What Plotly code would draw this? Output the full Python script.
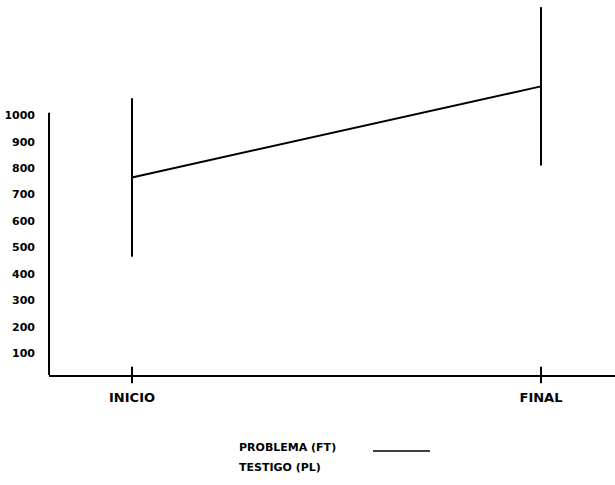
import plotly.graph_objects as go

# Data
categories = ["INICIO", "FINAL"]
x_pos = [0, 1]
means = [765, 1110]
spread = [300, 300]
y_ticks = [100, 200, 300, 400, 500, 600, 700, 800, 900, 1000]
legend_labels = ["PROBLEMA (FT)", "TESTIGO (PL)"]

FONT = "DejaVu Sans, Liberation Sans, Arial, sans-serif"

# Plot-area geometry (pixels) used to place paper-referenced items
L, W, B = 49, 566, 375


def px_x(px):
    return (px - L) / W


def px_y(py):
    return (B - py) / B


fig = go.Figure()
fig.add_trace(go.Scatter(
    x=x_pos, y=means, mode="lines",
    line=dict(color="black", width=2),
    error_y=dict(type="data", array=spread, visible=True,
                 color="black", thickness=2, width=0),
    showlegend=False, hoverinfo="skip",
))

shapes = []
# Vertical axis line, drawn only up to the top tick
shapes.append(dict(type="line", xref="paper", yref="y", x0=0, x1=0,
                   y0=17, y1=y_ticks[-1] + 10,
                   line=dict(color="black", width=2)))
# Crossing tick marks on the category axis
for xv in x_pos:
    shapes.append(dict(type="line", xref="x", yref="paper", x0=xv, x1=xv,
                       y0=-0.022, y1=0.022, line=dict(color="black", width=2)))
# Legend line sample
shapes.append(dict(type="line", xref="paper", yref="paper",
                   x0=px_x(373), x1=px_x(430), y0=px_y(451), y1=px_y(451),
                   line=dict(color="black", width=1.5)))

annotations = []
for i, lab in enumerate(legend_labels):
    annotations.append(dict(
        text=lab, xref="paper", yref="paper",
        x=px_x(237), y=px_y(447 + 20 * i),
        xanchor="left", yanchor="middle", showarrow=False,
        font=dict(family=FONT, size=11, color="black", weight="bold"),
    ))

fig.update_layout(
    width=615, height=485,
    margin=dict(l=L, r=615 - L - W, t=0, b=485 - B),
    paper_bgcolor="white", plot_bgcolor="white",
    showlegend=False,
    shapes=shapes, annotations=annotations,
    xaxis=dict(
        range=[-0.203, 1.181], tickvals=x_pos, ticktext=categories,
        showgrid=False, zeroline=False, showline=True,
        linecolor="black", linewidth=2, ticks="", ticklabelstandoff=9,
        tickfont=dict(family=FONT, size=13, color="black", weight="bold"),
    ),
    yaxis=dict(
        range=[17, 1437], tickvals=y_ticks,
        showgrid=False, zeroline=False, showline=False,
        ticks="", ticklabelstandoff=13,
        tickfont=dict(family=FONT, size=11, color="black", weight="bold"),
    ),
)

fig.write_html("out.html")
